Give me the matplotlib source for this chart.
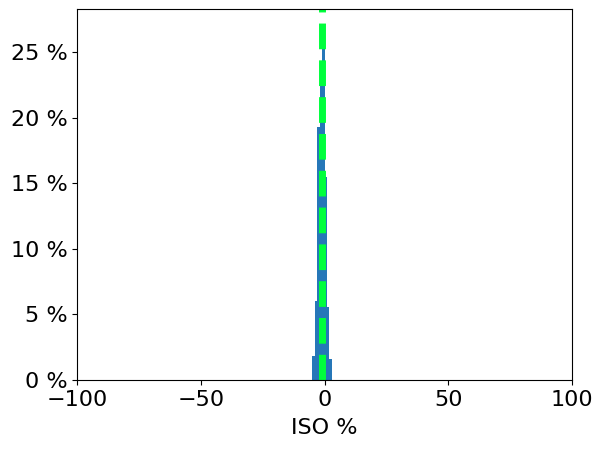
import matplotlib
matplotlib.use('Agg')
import matplotlib.pyplot as plt
from matplotlib.ticker import FuncFormatter

# histogram bins (ISO %) and share of samples per bin (%)
bin_edges = [-5, -4, -3, -2, -1, 0, 1, 2, 3]
bin_share = [1.8, 6.0, 19.3, 22.6, 25.4, 15.5, 5.6, 1.6]
mean_iso = -1.05

def main():
    fig = plt.figure(figsize=(6.03, 4.5), dpi=100)
    ax = fig.add_axes([77 / 603, 70 / 450, 495 / 603, 371 / 450])

    lefts = bin_edges[:-1]
    widths = [b - a for a, b in zip(bin_edges[:-1], bin_edges[1:])]
    ax.bar(lefts, bin_share, width=widths, align='edge', color='#2677b8', linewidth=0)

    ax.axvline(mean_iso, color='#00ff3c', linestyle='--', linewidth=5)

    ax.set_xlim(-100, 100)
    ax.set_ylim(0, 28.3)
    ax.set_xticks([-100, -50, 0, 50, 100])
    ax.set_yticks([0, 5, 10, 15, 20, 25])
    ax.yaxis.set_major_formatter(FuncFormatter(lambda v, p: f'{v:.0f} %'))
    ax.tick_params(labelsize=16)
    ax.set_xlabel('ISO %', fontsize=16, labelpad=6)

    fig.savefig('out.png', dpi=100)

if __name__ == '__main__':
    main()
